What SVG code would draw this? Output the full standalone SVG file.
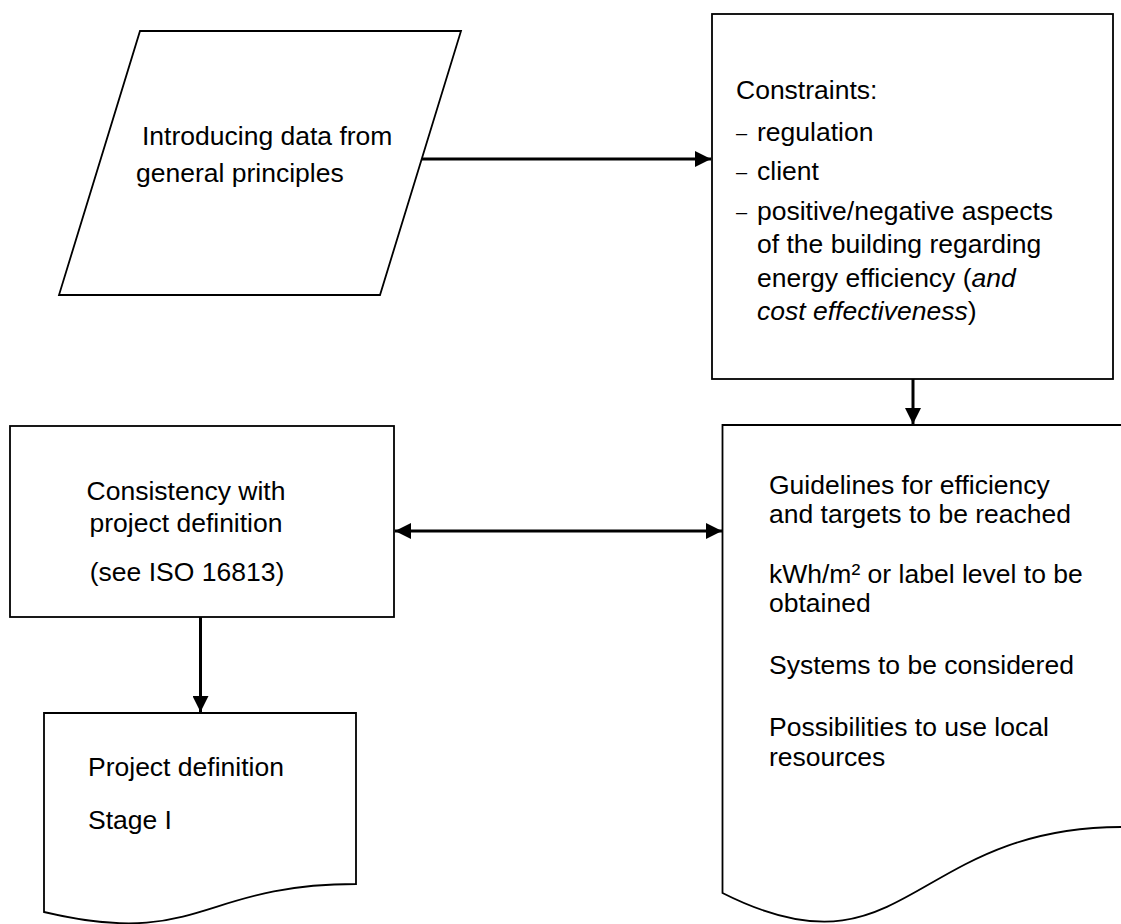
<svg xmlns="http://www.w3.org/2000/svg" width="1121" height="924" viewBox="0 0 1121 924">
<style>
.shape{fill:#fff;stroke:#000;stroke-width:1.8}
.txt{font-family:"Liberation Sans",Arial,sans-serif;font-size:26.5px;fill:#000}
.it{font-style:italic}
.dash{font-size:20px}
.conn{stroke:#000;stroke-width:3;fill:none}
</style>
<defs>
<marker id="ah" markerUnits="userSpaceOnUse" markerWidth="16" markerHeight="16" refX="16" refY="8" orient="auto-start-reverse" viewBox="0 0 16 16">
<path d="M0,0 L16,8 L0,16 Z" fill="#000"/>
</marker>
</defs>
<rect width="1121" height="924" fill="#fff"/>
<g id="node-input">
<path class="shape" d="M140,31 L461,31 L380,295 L59,295 Z"/>
<text class="txt"><tspan x="142" y="145">Introducing data from</tspan><tspan x="136" y="182">general principles</tspan></text>
</g>
<g id="node-constraints">
<rect class="shape" x="712" y="14" width="401" height="365"/>
<text class="txt">
<tspan x="736" y="99">Constraints:</tspan>
<tspan x="736" y="140" class="dash">–</tspan><tspan x="757" y="141">regulation</tspan>
<tspan x="736" y="179" class="dash">–</tspan><tspan x="757" y="180">client</tspan>
<tspan x="736" y="219" class="dash">–</tspan><tspan x="757" y="220">positive/negative aspects</tspan>
<tspan x="757" y="253">of the building regarding</tspan>
<tspan x="757" y="287">energy efficiency (</tspan><tspan class="it">and</tspan>
<tspan x="757" y="320" class="it">cost effectiveness</tspan><tspan>)</tspan>
</text>
</g>
<g id="node-consistency">
<rect class="shape" x="10" y="426" width="384" height="191"/>
<text class="txt" text-anchor="middle"><tspan x="186" y="500">Consistency with</tspan><tspan x="186" y="532">project definition</tspan><tspan x="187" y="581">(see ISO 16813)</tspan></text>
</g>
<g id="node-guidelines">
<path class="shape" d="M722.5,425 H1122 V827 C910,827 905,985 722.5,893 Z"/>
<text class="txt">
<tspan x="769" y="494">Guidelines for efficiency</tspan>
<tspan x="769" y="523">and targets to be reached</tspan>
<tspan x="769" y="583">kWh/m² or label level to be</tspan>
<tspan x="769" y="612">obtained</tspan>
<tspan x="769" y="674">Systems to be considered</tspan>
<tspan x="769" y="736">Possibilities to use local</tspan>
<tspan x="769" y="766">resources</tspan>
</text>
</g>
<g id="node-project">
<path class="shape" d="M44,713 H356 V884 C200,884 200,949 44,912 Z"/>
<text class="txt"><tspan x="88" y="776">Project definition</tspan><tspan x="88" y="829">Stage I</tspan></text>
</g>
<g id="connectors">
<line class="conn" x1="422" y1="159" x2="711" y2="159" marker-end="url(#ah)"/>
<line class="conn" x1="913" y1="379" x2="913" y2="424" marker-end="url(#ah)"/>
<line class="conn" x1="395" y1="531" x2="722" y2="531" marker-start="url(#ah)" marker-end="url(#ah)"/>
<line class="conn" x1="200.5" y1="617" x2="200.5" y2="712" marker-end="url(#ah)"/>
</g>
</svg>
